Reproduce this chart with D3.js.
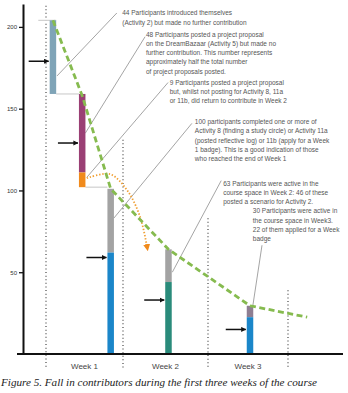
<!DOCTYPE html>
<html>
<head>
<meta charset="utf-8">
<script src="https://cdnjs.cloudflare.com/ajax/libs/d3/7.8.5/d3.min.js"></script>
<style>
  body { margin: 0; background: #fff; }
  svg { display: block; }
  .note { font-family: "Liberation Sans", Arial, sans-serif; font-size: 6.5px; fill: #555; }
  .week { font-family: "Liberation Sans", Arial, sans-serif; font-size: 8px; fill: #444; }
  .caption { font-family: "Liberation Serif", "Times New Roman", serif; font-style: italic; font-size: 10.5px; fill: #222; }
</style>
</head>
<body>
<div class="container"></div>
<script>
// week position of each bar (0 = start of week 1)
var barWeeks = [0.09, 0.47, 0.84, 1.535, 2.525];

// stacked pieces of each bar: bar index, bottom, top, colour key
var segBar = [0, 1, 1, 2, 2, 3, 3, 4, 4];
var segFrom = [159, 111, 102, 62, 0, 44, 0, 22.5, 0];
var segTo = [204, 159, 111, 101, 62, 64, 44, 29.5, 22.5];
var segKind = ['intro', 'proposal', 'returned', 'rest', 'active1', 'rest', 'active2', 'rest3', 'active1'];

// where the black arrows point on each bar
var arrowValues = [179, 129, 59, 33, 15];

// dashed green trend (week, value)
var trendWeeks = [0.09, 0.47, 0.84, 1.535, 2.525, 3.24];
var trendValues = [204, 158, 101, 64, 29.5, 22.5];

// orange dotted path: those who returned in week 2
var returnWeeks = [0.53, 0.83, 1.05, 1.2, 1.285];
var returnValues = [107.5, 110, 100, 84, 65];

var weekBounds = [0, 1, 2, 3];
var weekTops = [213, 131, 83, 39];
var weekLabels = ['Week 1', 'Week 2', 'Week 3'];
var yTicks = [50, 100, 150, 200];

var notes = [
    ['44 Participants introduced themselves', '(Activity 2) but made no further contribution'],
    ['48 Participants posted a project proposal', 'on the DreamBazaar (Activity 5) but made no',
     'further contribution.  This number represents', 'approximately half the total number',
     'of project proposals posted.'],
    ['9 Participants posted a project proposal', 'but, whilst not posting for Activity 8, 11a',
     'or 11b, did return to contribute in Week 2'],
    ['100 participants completed one or more of', 'Activity 8 (finding a study circle) or Activity 11a',
     '(posted reflective log) or 11b (apply for a Week', '1 badge). This is a good indication of those',
     'who reached the end of Week 1'],
    ['63 Participants were active in the', 'course space in Week 2: 46 of these',
     'posted a scenario for Activity 2.'],
    ['30 Participants were active in', 'the course space in Week3.', '22 of them applied for a Week',
     'badge']
];

var caption = 'Figure 5. Fall in contributors during the first three weeks of the course';

var colours = {
    intro: '#7fa4b7', proposal: '#9a3f74', returned: '#f08a1c', rest: '#a3a3a3',
    active1: '#1b86c9', active2: '#2a8b7b', rest3: '#8e7e92'
};

var translate = function (x, y) {
    return 'translate(' + x + ', ' + y + ')';
};

var visualize = function () {
    const WIDTH = 348;
    const HEIGHT = 393;
    const BAR_W = 6.5;

    var xScale = d3.scaleLinear().domain([0, 1, 2, 3]).range([46, 123, 208, 288]);
    var yScale = d3.scaleLinear().domain([0, 214]).range([354, 4]);

    var svg = d3.select('.container').append('svg')
        .attr('width', WIDTH).attr('height', HEIGHT);

    var defs = svg.append('defs');
    defs.append('marker').attr('id', 'blackHead')
        .attr('viewBox', '0 0 10 10').attr('refX', 9).attr('refY', 5)
        .attr('markerWidth', 3.4).attr('markerHeight', 3.4).attr('orient', 'auto')
        .append('path').attr('d', 'M0,0L10,5L0,10z').attr('fill', '#111');
    defs.append('marker').attr('id', 'orangeHead')
        .attr('viewBox', '0 0 10 10').attr('refX', 5).attr('refY', 5)
        .attr('markerWidth', 4).attr('markerHeight', 4).attr('orient', 'auto')
        .attr('markerUnits', 'strokeWidth')
        .append('path').attr('d', 'M0,0L10,5L0,10z').attr('fill', '#f08a1c');

    // dotted week boundaries
    svg.append('g').selectAll('line')
        .data(weekBounds).enter().append('line')
        .attr('x1', function (d) { return xScale(d); })
        .attr('x2', function (d) { return xScale(d); })
        .attr('y1', function (d, i) { return yScale(weekTops[i]); })
        .attr('y2', 368)
        .attr('stroke', '#333').attr('stroke-width', 1.1)
        .attr('stroke-dasharray', '1,2.6');

    // light connectors between bars
    var connectors = [
        [xScale(-0.1), xScale(barWeeks[0]) + BAR_W / 2, segTo[0]],
        [xScale(barWeeks[0]) + BAR_W / 2, xScale(barWeeks[1]) - BAR_W / 2, segFrom[0]],
        [xScale(barWeeks[1]) + BAR_W / 2, xScale(barWeeks[2]) - BAR_W / 2, segFrom[2]]
    ];
    svg.append('g').selectAll('line')
        .data(connectors).enter().append('line')
        .attr('x1', function (d) { return d[0]; })
        .attr('x2', function (d) { return d[1]; })
        .attr('y1', function (d) { return yScale(d[2]); })
        .attr('y2', function (d) { return yScale(d[2]); })
        .attr('stroke', '#d0d0d0').attr('stroke-width', 1.2);

    // leader lines, in (week, value) units
    var leaders = [
        [0.143, 170, 0.92, 208.5],
        [0.51, 135, 1.26, 194],
        [0.53, 108, 1.53, 166],
        [0.88, 83, 1.81, 141],
        [1.58, 50, 2.165, 106],
        [2.56, 29.4, 2.675, 66.5]
    ];
    svg.append('g').selectAll('line')
        .data(leaders).enter().append('line')
        .attr('x1', function (d) { return xScale(d[0]); })
        .attr('y1', function (d) { return yScale(d[1]); })
        .attr('x2', function (d) { return xScale(d[2]); })
        .attr('y2', function (d) { return yScale(d[3]); })
        .attr('stroke', '#666').attr('stroke-width', 0.6);

    // stacked bars
    svg.append('g').selectAll('rect')
        .data(segBar).enter().append('rect')
        .attr('x', function (d) { return xScale(barWeeks[d]) - BAR_W / 2; })
        .attr('width', BAR_W)
        .attr('y', function (d, i) { return yScale(segTo[i]); })
        .attr('height', function (d, i) { return yScale(segFrom[i]) - yScale(segTo[i]); })
        .attr('fill', function (d, i) { return colours[segKind[i]]; });

    // orange dotted return path
    var returnLine = d3.line()
        .x(function (d) { return xScale(d); })
        .y(function (d, i) { return yScale(returnValues[i]); })
        .curve(d3.curveCatmullRom);
    svg.append('path').datum(returnWeeks)
        .attr('d', returnLine)
        .attr('fill', 'none').attr('stroke', '#f0a035')
        .attr('stroke-width', 1.8).attr('stroke-dasharray', '1.4,1.8')
        .attr('marker-end', 'url(#orangeHead)');

    // green dashed trend
    var trendLine = d3.line()
        .x(function (d) { return xScale(d); })
        .y(function (d, i) { return yScale(trendValues[i]); });
    svg.append('path').datum(trendWeeks)
        .attr('d', trendLine)
        .attr('fill', 'none').attr('stroke', '#86bb4f')
        .attr('stroke-width', 2.8).attr('stroke-dasharray', '6,3.5');

    // black arrows
    svg.append('g').selectAll('line')
        .data(arrowValues).enter().append('line')
        .attr('x1', function (d, i) { return xScale(barWeeks[i]) - BAR_W / 2 - 21; })
        .attr('x2', function (d, i) { return xScale(barWeeks[i]) - BAR_W / 2 - 1; })
        .attr('y1', function (d) { return yScale(d); })
        .attr('y2', function (d) { return yScale(d); })
        .attr('stroke', '#111').attr('stroke-width', 1.5)
        .attr('marker-end', 'url(#blackHead)');

    // annotations, first baseline at (week, value)
    var notePos = [[0.99, 207], [1.27, 194], [1.55, 164.5], [1.845, 140.5], [2.19, 103], [2.56, 86]];
    var noteG = svg.append('g').selectAll('text')
        .data(notes).enter().append('text')
        .attr('class', 'note')
        .attr('transform', function (d, i) {
            return translate(xScale(notePos[i][0]), yScale(notePos[i][1]));
        });
    noteG.selectAll('tspan')
        .data(function (d) { return d; }).enter().append('tspan')
        .attr('x', 0)
        .attr('y', function (d, i) { return i * 9.2; })
        .text(function (d) { return d; });

    // axes
    var yAxis = d3.axisLeft(yScale).tickValues(yTicks).tickSize(4).tickSizeOuter(0);
    var yg = svg.append('g').attr('transform', translate(23, 0)).call(yAxis);
    yg.select('.domain').attr('stroke', '#111').attr('stroke-width', 2);
    yg.selectAll('.tick line').attr('stroke', '#111').attr('stroke-width', 1.3);
    yg.selectAll('.tick text')
        .attr('font-family', '"Liberation Sans", Arial, sans-serif')
        .attr('font-size', 6).attr('fill', '#333').attr('x', -6);

    svg.append('line')
        .attr('x1', 17).attr('x2', 343)
        .attr('y1', yScale(0)).attr('y2', yScale(0))
        .attr('stroke', '#111').attr('stroke-width', 2.2);

    svg.append('g').selectAll('text')
        .data(weekLabels).enter().append('text')
        .attr('class', 'week')
        .attr('text-anchor', 'middle')
        .attr('x', function (d, i) { return (xScale(weekBounds[i]) + xScale(weekBounds[i + 1])) / 2; })
        .attr('y', 369)
        .text(function (d) { return d; });

    svg.append('text')
        .attr('class', 'caption')
        .attr('x', 1).attr('y', 386)
        .attr('textLength', 316).attr('lengthAdjust', 'spacingAndGlyphs')
        .text(caption);
};

window.onload = visualize;
</script>
</body>
</html>
